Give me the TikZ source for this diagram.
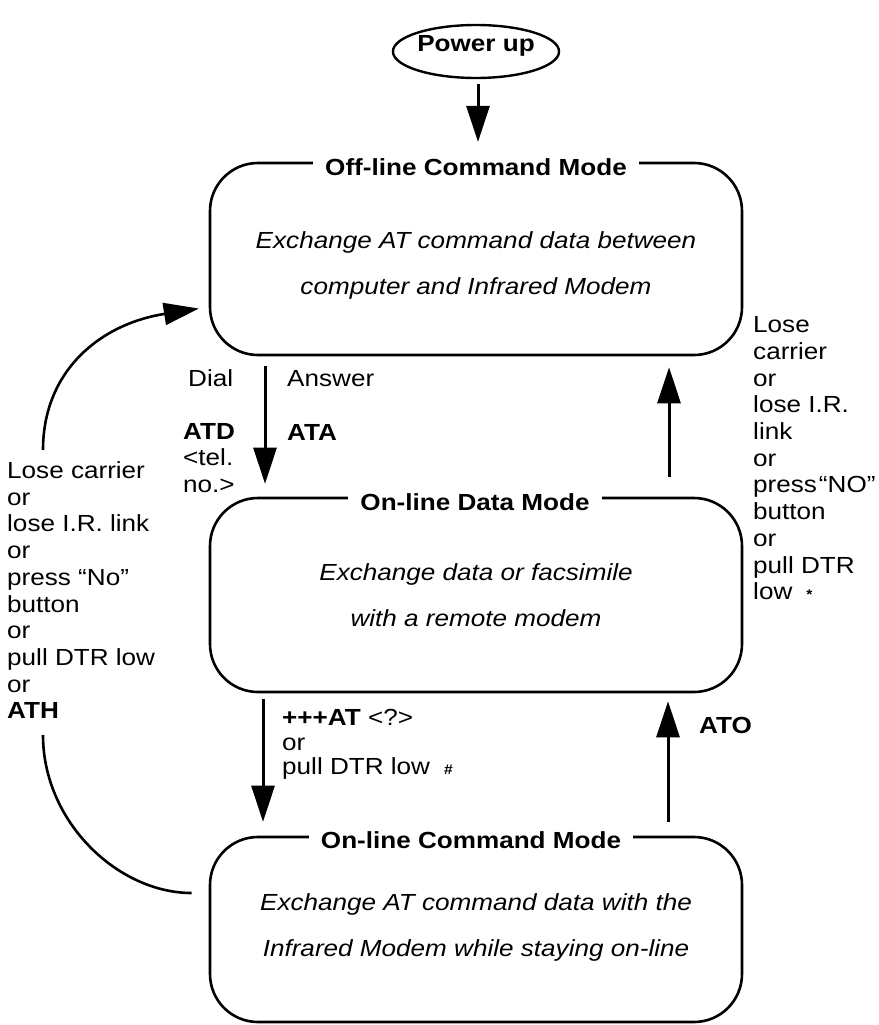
\documentclass[tikz,border=0pt]{standalone}
\usepackage{fontspec}
\setmainfont{Liberation Sans}[FakeStretch=1.12]
\usetikzlibrary{arrows.meta,shapes.geometric}
\newcommand{\basesize}{\fontsize{23.3pt}{26.7pt}\selectfont}
\newcommand{\marksize}{\fontsize{14pt}{14pt}\selectfont}
\tikzset{
  statebox/.style={draw, line width=2.6pt, rounded corners=48pt, minimum width=532pt, inner sep=0pt},
  boxtitle/.style={fill=white, font=\basesize\bfseries, inner xsep=12pt, inner ysep=3pt, anchor=base},
  desc/.style={font=\basesize\itshape, anchor=base, inner sep=0pt},
  arr/.style={line width=3pt, -{Triangle[length=36pt,width=23pt]}},
  curvearr/.style={line width=2.6pt, -{Triangle[length=35pt,width=22pt]}},
  curveline/.style={line width=2.6pt},
  lbl/.style={align=left, inner sep=0pt, anchor=north west, font=\basesize},
  single/.style={inner sep=0pt, anchor=base west, font=\basesize},
}
\begin{document}
\begin{tikzpicture}[x=1pt,y=-1pt, font=\basesize]
\useasboundingbox (0,0) rectangle (878,1025);

% start node
\node[ellipse, draw, line width=2.4pt, minimum width=165pt, minimum height=53pt, inner sep=0pt,
      text height=16pt, text depth=15pt, font=\basesize\bfseries] (pwr) at (476,51.5) {Power up};

% state boxes
\node[statebox, minimum height=192pt] (b1) at (476,259) {};
\node[statebox, minimum height=194pt] (b2) at (476,595) {};
\node[statebox, minimum height=185pt] (b3) at (476,929.5) {};

% titles
\node[boxtitle] (t1) at (476,175) {Off-line Command Mode};
\node[boxtitle] (t2) at (475,510) {On-line Data Mode};
\node[boxtitle] (t3) at (471,848) {On-line Command Mode};

% descriptions
\node[desc] (d1a) at (476,248) {Exchange AT command data between};
\node[desc] (d1b) at (476,294) {computer and Infrared Modem};
\node[desc] (d2a) at (476,580) {Exchange data or facsimile};
\node[desc] (d2b) at (476,626) {with a remote modem};
\node[desc] (d3a) at (476,910) {Exchange AT command data with the};
\node[desc] (d3b) at (476,956) {Infrared Modem while staying on-line};

% x positions of the straight connectors
\coordinate (xpwr) at (478,0);
\coordinate (xdial) at (265,0);
\coordinate (xlose) at (669,0);
\coordinate (xesc) at (263,0);
\coordinate (xato) at (668,0);

% straight connectors
\draw[arr, shorten <=5pt, shorten >=13pt] (pwr.south -| xpwr) -- (t1.north -| xpwr);
\draw[arr, shorten <=10pt, shorten >=13pt] (b1.south -| xdial) -- (b2.north -| xdial);
\draw[arr, shorten <=20pt, shorten >=11pt] (b2.north -| xlose) -- (b1.south -| xlose);
\draw[arr, shorten <=6pt, shorten >=14pt] (b2.south -| xesc) -- (b3.north -| xesc);
\draw[arr, shorten <=14pt, shorten >=8pt] (b3.north -| xato) -- (b2.south -| xato);

% curved connectors on the left
\coordinate (cup) at (43,450);
\coordinate (cupend) at (0,307);
\draw[curvearr, shorten >=10pt] (cup) .. controls (43,371) and (100,324) .. (b1.west |- cupend);
\coordinate (clow) at (43,735);
\coordinate (clowend) at (0,893);
\draw[curveline, shorten >=17pt] (clow) .. controls (43,822) and (118,893) .. (b3.west |- clowend);

% labels
\node[single] (ldial) at (188,386.5) {Dial};
\node[single] (lanswer) at (287,386.5) {Answer};
\node[lbl] (latd) at (183,423) {\textbf{ATD}\\<tel.\\no.>};
\node[single, font=\basesize\bfseries] (lata) at (287,440) {ATA};
\node[lbl] (lleft) at (7,461.5) {Lose carrier\\or\\lose I.R. link\\or\\press “No”\\button\\or\\pull DTR low\\or\\\textbf{ATH}};
\node[lbl] (lright) at (753,316.5) {Lose\\carrier\\or\\lose I.R.\\link\\or\\press\kern2pt“NO”\\button\\or\\pull DTR\\low\kern14pt{\marksize\bfseries *}};
\node[lbl, font=\fontsize{23.3pt}{24.5pt}\selectfont] (lesc) at (282,709.5) {\textbf{+++AT} <?>\\or\\pull DTR low\kern14pt{\marksize\bfseries\#}};
\node[single, font=\basesize\bfseries] (lato) at (699,733) {ATO};
\end{tikzpicture}
\end{document}
